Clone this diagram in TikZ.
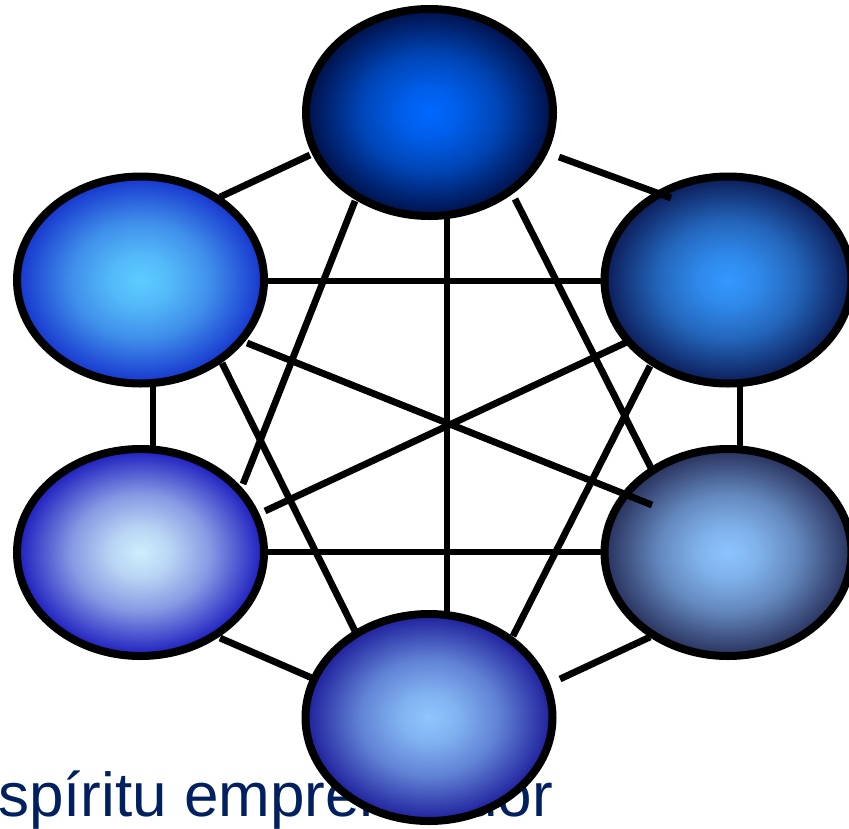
\documentclass[tikz,border=0pt]{standalone}
\usepackage{fontspec}
\setmainfont{Liberation Sans}
\usetikzlibrary{shapes.geometric}
\makeatletter
\pgfdeclareradialshading[tikz@radial@inner,tikz@radial@outer]{softball}{\pgfpoint{0bp}{0bp}}%
  {color(0bp)=(tikz@radial@inner);
   color(6bp)=(tikz@radial@inner!88!tikz@radial@outer);
   color(14bp)=(tikz@radial@inner!60!tikz@radial@outer);
   color(25bp)=(tikz@radial@outer);
   color(50bp)=(tikz@radial@outer)}
\makeatother
\definecolor{txtblue}{RGB}{0,32,96}
\definecolor{tIn}{RGB}{0,104,255}\definecolor{tOut}{RGB}{0,16,72}
\definecolor{ltIn}{RGB}{92,204,255}\definecolor{ltOut}{RGB}{22,52,205}
\definecolor{rtIn}{RGB}{52,152,255}\definecolor{rtOut}{RGB}{12,28,88}
\definecolor{lbIn}{RGB}{206,238,252}\definecolor{lbOut}{RGB}{28,28,190}
\definecolor{rbIn}{RGB}{140,196,255}\definecolor{rbOut}{RGB}{40,48,92}
\definecolor{bIn}{RGB}{142,198,252}\definecolor{bOut}{RGB}{30,30,155}
\tikzset{
  ball/.style={ellipse, draw=black, line width=8pt, minimum width=247pt,
    minimum height=207pt, inner sep=0pt},
  link/.style={draw=black, line width=6.8pt}
}
\begin{document}
\begin{tikzpicture}[x=1pt,y=-1pt]
\useasboundingbox (0,0) rectangle (849,828);
\node[anchor=base west, inner sep=0pt, text=txtblue,
  font=\fontsize{62}{62}\selectfont] (txt) at (-2,816) {spíritu emprendedor};
\node[ball, inner color=tIn, outer color=tOut, shading=softball] (T) at (429.5,112.5) {};
\node[ball, inner color=ltIn, outer color=ltOut, shading=softball] (LT) at (140.5,280) {};
\node[ball, inner color=rtIn, outer color=rtOut, shading=softball] (RT) at (728,280) {};
\node[ball, inner color=lbIn, outer color=lbOut, shading=softball] (LB) at (140.5,552.5) {};
\node[ball, inner color=rbIn, outer color=rbOut, shading=softball] (RB) at (728,552.5) {};
\node[ball, inner color=bIn, outer color=bOut, shading=softball] (B) at (429,717.5) {};
% connector end points
\coordinate (a1) at (310,155); \coordinate (a2) at (220,197);
\coordinate (b1) at (559,157); \coordinate (b2) at (671,198);
\coordinate (c1) at (355,201); \coordinate (c2) at (243,484);
\coordinate (d1) at (447,218); \coordinate (d2) at (447,612);
\coordinate (e1) at (515,199); \coordinate (e2) at (652,470);
\coordinate (f1) at (266,281); \coordinate (f2) at (604,281);
\coordinate (g1) at (153,386); \coordinate (g2) at (153,446);
\coordinate (h1) at (247,343); \coordinate (h2) at (652,505);
\coordinate (i1) at (222,363); \coordinate (i2) at (356,633);
\coordinate (j1) at (627,342); \coordinate (j2) at (265,511);
\coordinate (k1) at (740,386); \coordinate (k2) at (740,446);
\coordinate (l1) at (650,366); \coordinate (l2) at (513,636);
\coordinate (m1) at (266,552); \coordinate (m2) at (604,552);
\coordinate (n1) at (220,638); \coordinate (n2) at (312,678);
\coordinate (o1) at (560,679); \coordinate (o2) at (650,637);
\foreach \p in {a,b,c,d,e,f,g,h,i,j,k,l,m,n,o}
  \draw[link] (\p1) -- (\p2);
\end{tikzpicture}
\end{document}
